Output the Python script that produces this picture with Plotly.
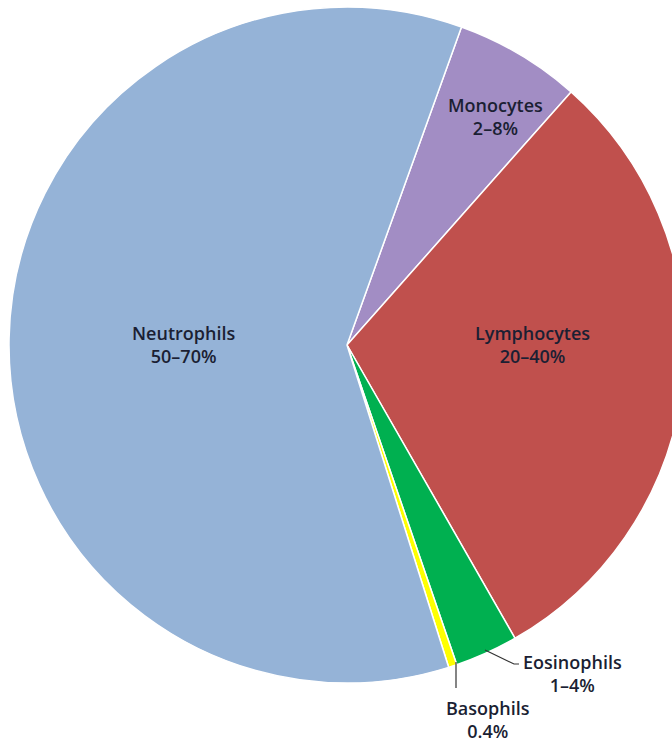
import plotly.graph_objects as go

# White blood cell differential, clockwise from the Monocytes slice
cells = ["Monocytes", "Lymphocytes", "Eosinophils", "Basophils", "Neutrophils"]
shares = [6, 30, 3, 0.4, 60]
ranges = ["2–8%", "20–40%", "1–4%", "0.4%", "50–70%"]
colors = ["#A28DC4", "#C0504D", "#00B050", "#FFFF00", "#95B3D7"]

W, H = 700, 742
# pie box in pixels (left, top, right, bottom); the right edge runs past the page
box = (9, 7, 685, 683)

fig = go.Figure(go.Pie(
    labels=cells,
    values=shares,
    sort=False,
    direction="clockwise",
    rotation=19.8,
    marker=dict(colors=colors, line=dict(color="white", width=1.5)),
    textinfo="none",
    hoverinfo="label+percent",
    showlegend=False,
    domain=dict(x=[box[0] / W, box[2] / W], y=[1 - box[3] / H, 1 - box[1] / H]),
))

# label anchor points (pixels) per cell
label_pos = {
    "Neutrophils": (183, 345),
    "Monocytes": (496, 116),
    "Lymphocytes": (532, 345),
    "Eosinophils": (572, 673),
    "Basophils": (488, 719),
}
for name, rng in zip(cells, ranges):
    px, py = label_pos[name]
    fig.add_annotation(
        x=px / W, y=1 - py / H, xref="paper", yref="paper",
        text=f"{name}<br>{rng}", showarrow=False,
        font=dict(family="Open Sans", size=18, color="#1b1f33", weight=600),
        align="center", xanchor="center", yanchor="middle",
    )

# leader lines for the two thin slices
leaders = [
    [(485, 650), (514, 664), (519, 664)],
    [(456, 662), (456, 688)],
]
for pts in leaders:
    path = "M " + " L ".join(f"{x / W},{1 - y / H}" for x, y in pts)
    fig.add_shape(type="path", path=path, xref="paper", yref="paper",
                  line=dict(color="#333333", width=1.2))

fig.update_layout(
    width=W, height=H,
    margin=dict(l=0, r=0, t=0, b=0),
    paper_bgcolor="white", plot_bgcolor="white",
)

fig.write_html("out.html", post_script="document.body.style.overflow='hidden';document.body.style.margin='0';")
